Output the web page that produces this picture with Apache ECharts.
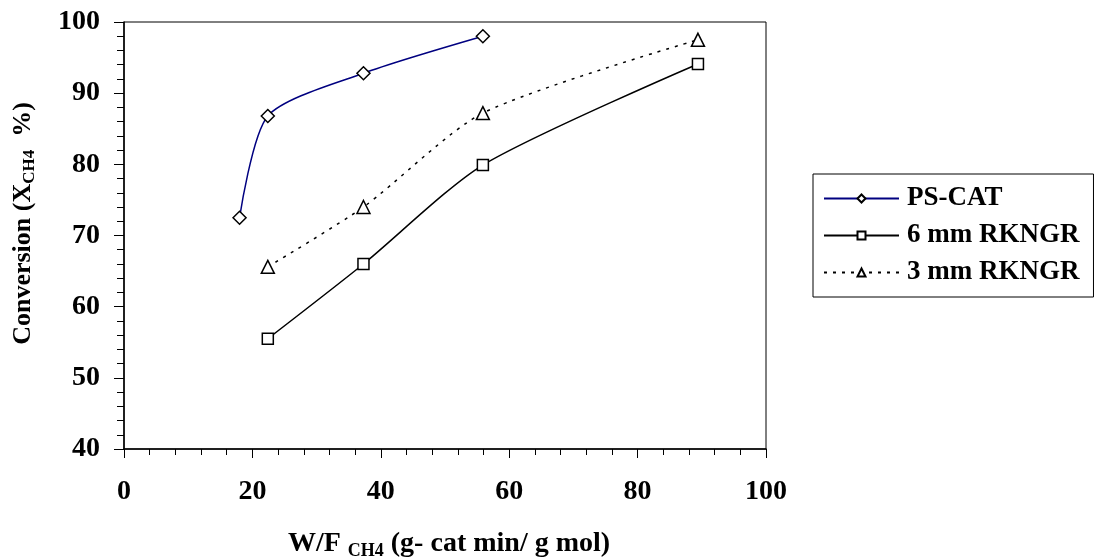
<!DOCTYPE html>
<html>
<head>
<meta charset="utf-8">
<script src="https://cdn.jsdelivr.net/npm/echarts@6/dist/echarts.min.js"></script>
<style>
  html, body { margin: 0; padding: 0; background: #fff; }
  #main { width: 1096px; height: 557px; }
</style>
</head>
<body>
<div id="main"></div>
<script>
// data: W/F CH4 (x) and conversion % (y)
var psCatX = [18, 22.4, 37.3, 55.9];
var psCatY = [72.5, 86.8, 92.8, 98.0];

var rk6X = [22.4, 37.3, 55.9, 89.4];
var rk6Y = [55.5, 66.0, 79.9, 94.1];

var rk3X = [22.4, 37.3, 55.9, 89.4];
var rk3Y = [65.6, 74.0, 87.2, 97.5];

var seriesNames = ['PS-CAT', '6 mm RKNGR', '3 mm RKNGR'];

function pairs(xs, ys) {
  return xs.map(function (x, i) { return [x, ys[i]]; });
}

var font = 'Liberation Serif';
var myChart = echarts.init(document.getElementById('main'));

myChart.setOption({
  animation: false,
  grid: {
    left: 124, right: 330, top: 22, bottom: 108,
    outerBoundsMode: 'none',
    containLabel: false,
    show: true,
    borderColor: '#000',
    borderWidth: 1
  },
  legend: {
    orient: 'vertical',
    left: 813,
    top: 174,
    padding: [11, 14, 11, 10],
    itemGap: 10,
    itemWidth: 75,
    itemHeight: 10,
    borderColor: '#000',
    borderWidth: 1,
    data: seriesNames,
    textStyle: { fontFamily: font, fontWeight: 'bold', fontSize: 27, color: '#000', padding: [0, 0, 0, 3] }
  },
  xAxis: {
    type: 'value',
    min: 0, max: 100, interval: 20,
    name: 'W/F {s|CH4} (g- cat min/ g mol)',
    nameLocation: 'middle',
    nameGap: 79,
    nameTextStyle: {
      fontFamily: font, fontWeight: 'bold', fontSize: 28, color: '#000',
      padding: [0, 0, 0, 8],
      rich: {
        s: { fontFamily: font, fontWeight: 'bold', fontSize: 18, color: '#000', verticalAlign: 'bottom', lineHeight: 32, padding: [10, 0, 0, 0] }
      }
    },
    axisLine: { show: true, lineStyle: { color: '#000', width: 1.5 } },
    axisTick: { show: true, inside: false, length: 9, lineStyle: { color: '#000', width: 1 } },
    minorTick: { show: true, splitNumber: 5, length: 6, lineStyle: { color: '#000', width: 1 } },
    splitLine: { show: false },
    axisLabel: { margin: 29, fontFamily: font, fontWeight: 'bold', fontSize: 28, color: '#000' }
  },
  yAxis: {
    type: 'value',
    min: 40, max: 100, interval: 10,
    name: '{a|Conversion (X}{s|CH4}{a|  %)}',
    nameLocation: 'middle',
    nameGap: 86,
    nameRotate: 90,
    nameTextStyle: {
      fontFamily: font, fontWeight: 'bold', fontSize: 26, color: '#000',
      padding: [0, 0, 0, 24],
      rich: {
        a: { fontFamily: font, fontWeight: 'bold', fontSize: 26, color: '#000', lineHeight: 30 },
        s: { fontFamily: font, fontWeight: 'bold', fontSize: 17, color: '#000', verticalAlign: 'bottom', lineHeight: 30, padding: [9, 0, 0, 0] }
      }
    },
    axisLine: { show: true, lineStyle: { color: '#000', width: 1.5 } },
    axisTick: { show: true, inside: false, length: 10, lineStyle: { color: '#000', width: 1 } },
    minorTick: { show: true, splitNumber: 5, length: 7, lineStyle: { color: '#000', width: 1 } },
    splitLine: { show: false },
    axisLabel: { margin: 24, fontFamily: font, fontWeight: 'bold', fontSize: 28, color: '#000' }
  },
  series: [
    {
      name: seriesNames[0],
      type: 'line',
      data: pairs(psCatX, psCatY),
      smooth: 0.25,
      symbol: 'diamond',
      symbolSize: 13,
      itemStyle: { color: '#fff', borderColor: '#000', borderWidth: 1.5 },
      lineStyle: { color: '#000080', width: 1.5 }
    },
    {
      name: seriesNames[1],
      type: 'line',
      data: pairs(rk6X, rk6Y),
      smooth: 0.25,
      symbol: 'rect',
      symbolSize: 11,
      itemStyle: { color: '#fff', borderColor: '#000', borderWidth: 1.5 },
      lineStyle: { color: '#000', width: 1.5 }
    },
    {
      name: seriesNames[2],
      type: 'line',
      data: pairs(rk3X, rk3Y),
      smooth: 0.25,
      symbol: 'triangle',
      symbolSize: 13,
      itemStyle: { color: '#fff', borderColor: '#000', borderWidth: 1.5 },
      lineStyle: { color: '#000', width: 1.5, type: [3, 6] }
    }
  ]
});
</script>
</body>
</html>
